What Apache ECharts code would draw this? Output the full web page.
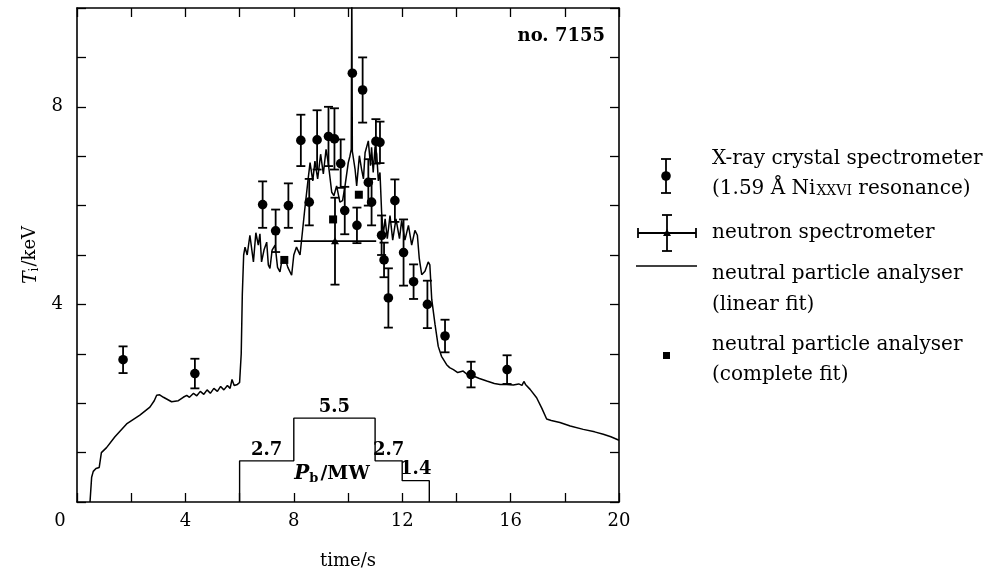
<!DOCTYPE html>
<html><head><meta charset="utf-8">
<script src="https://cdn.jsdelivr.net/npm/echarts@6/dist/echarts.min.js"></script>
<style>html,body{margin:0;padding:0;background:#fff}#c{width:986px;height:575px}</style>
</head><body><div id="c"></div>
<script>
const FONT = '"DejaVu Serif", "Liberation Serif", serif';

// X-ray crystal spectrometer (1.59 Å Ni XXVI resonance): time/s, Ti/keV, error/keV
const xrayTime = [1.7, 4.35, 6.85, 7.33, 7.8, 8.26, 8.57, 8.86, 9.28, 9.5, 9.73, 9.88, 10.16, 10.54, 10.33, 10.75, 10.87, 11.03, 11.18, 11.24, 11.73, 11.33, 11.49, 12.05, 12.42, 12.93, 13.58, 14.54, 15.87];
const xrayTi   = [2.88, 2.6, 6.02, 5.49, 6.0, 7.32, 6.07, 7.33, 7.4, 7.35, 6.85, 5.9, 8.68, 8.34, 5.6, 6.47, 6.07, 7.3, 7.28, 5.4, 6.1, 4.9, 4.13, 5.05, 4.46, 4.0, 3.36, 2.58, 2.68];
const xrayErr  = [0.27, 0.3, 0.47, 0.43, 0.45, 0.52, 0.47, 0.6, 0.6, 0.62, 0.49, 0.48, 0, 0.66, 0.36, 0.47, 0.47, 0.45, 0.42, 0.4, 0.43, 0.35, 0.6, 0.67, 0.35, 0.48, 0.33, 0.26, 0.29];

// neutron spectrometer
const neutronTime = [9.52];
const neutronTi = [5.28];
const neutronTimeErr = [1.52];
const neutronTiErr = [0.88];

// neutral particle analyser (complete fit)
const npaCompleteTime = [7.65, 9.45, 10.4];
const npaCompleteTi = [4.9, 5.72, 6.22];

// neutral particle analyser (linear fit) trace
const npaTime = [0.48,0.54,0.6,0.7,0.82,0.9,1.09,1.4,1.83,2.32,2.69,2.85,2.94,3.05,3.19,3.49,3.74,3.92,4.05,4.15,4.3,4.42,4.55,4.68,4.8,4.92,5.05,5.18,5.3,5.42,5.55,5.65,5.72,5.8,5.92,6.0,6.06,6.1,6.15,6.2,6.28,6.38,6.51,6.6,6.69,6.75,6.81,6.9,7.0,7.06,7.12,7.2,7.31,7.4,7.49,7.58,7.68,7.78,7.92,8.0,8.1,8.23,8.4,8.53,8.6,8.7,8.78,8.88,8.99,9.09,9.19,9.27,9.4,9.48,9.58,9.7,9.8,9.89,10.01,10.07,10.12,10.14,10.16,10.26,10.32,10.42,10.5,10.57,10.63,10.75,10.83,10.87,10.93,11.0,11.06,11.12,11.18,11.24,11.3,11.37,11.45,11.55,11.65,11.77,11.9,11.98,12.1,12.23,12.35,12.47,12.56,12.63,12.72,12.84,12.96,13.02,13.05,13.09,13.21,13.33,13.45,13.64,13.75,13.89,14.05,14.25,14.4,14.62,14.85,15.12,15.4,15.61,15.85,16.1,16.3,16.42,16.49,16.55,16.72,16.96,17.15,17.33,17.5,17.82,18.2,18.68,19.1,19.42,19.7,20.0];
const npaTi   = [0,0.5,0.62,0.68,0.7,1.0,1.1,1.32,1.58,1.76,1.92,2.05,2.16,2.17,2.12,2.03,2.05,2.12,2.16,2.12,2.2,2.15,2.24,2.18,2.27,2.2,2.3,2.24,2.34,2.27,2.36,2.3,2.48,2.36,2.38,2.42,3.0,4.2,5.0,5.16,5.0,5.4,4.86,5.45,5.2,5.43,4.86,5.1,5.26,4.8,4.73,5.1,5.2,4.75,4.66,4.95,4.93,4.75,4.59,5.0,5.16,5.0,5.9,6.54,6.87,6.5,6.9,6.54,7.04,6.64,7.14,6.87,6.27,6.2,6.4,6.07,6.1,6.4,6.87,7.0,7.14,10.5,7.1,6.74,6.4,7.01,6.74,6.54,7.07,7.31,6.81,7.18,6.67,7.2,7.04,6.5,6.67,5.87,5.4,5.73,5.33,5.8,5.3,5.73,5.33,5.7,5.3,5.6,5.2,5.5,5.4,4.93,4.6,4.67,4.86,4.8,4.5,4.1,3.6,3.15,2.95,2.78,2.72,2.68,2.62,2.65,2.58,2.55,2.5,2.45,2.4,2.38,2.38,2.37,2.39,2.36,2.44,2.38,2.28,2.11,1.9,1.68,1.65,1.61,1.54,1.47,1.42,1.37,1.32,1.25];

// beam power P_b/MW steps
const beamEdges = [6, 8, 11, 12, 13];
const beamPower = [2.7, 5.5, 2.7, 1.4];

// tick labels
const xTickLabels = [4, 8, 12, 16, 20];
const yTickLabels = [4, 8];

const chart = echarts.init(document.getElementById('c'), null, {renderer: 'canvas'});

const beamLine = [[beamEdges[0], 0]];
for (let i = 0; i < beamPower.length; i++) {
  beamLine.push([beamEdges[i], beamPower[i]]);
  beamLine.push([beamEdges[i + 1], beamPower[i]]);
}
beamLine.push([beamEdges[beamEdges.length - 1], 0]);
const beamLabels = beamPower.map((p, i) => [(beamEdges[i] + beamEdges[i + 1]) / 2, p]);

const txt = {color: '#000', fontFamily: FONT};
const LW = 1.6;
const FS = 18;
const LFS = 20;

function axisCommon(extra) {
  return Object.assign({
    type: 'value',
    axisLine: {show: true, onZero: false, lineStyle: {color: '#000', width: LW}},
    axisTick: {show: true, inside: true, length: 9, lineStyle: {color: '#000', width: 1.3}},
    splitLine: {show: false},
  }, extra);
}

const option = {
  animation: false,
  backgroundColor: '#fff',
  grid: {left: 77, right: 367, top: 8, bottom: 70, containLabel: false},
  xAxis: [
    axisCommon({min: 0, max: 20, interval: 2, position: 'bottom',
      axisLabel: {show: true, margin: 10, fontSize: FS, ...txt,
        formatter: v => xTickLabels.includes(v) ? String(v) : ''},
      name: 'time/s', nameLocation: 'middle', nameGap: 50,
      nameTextStyle: {fontSize: FS, ...txt}}),
    axisCommon({min: 0, max: 20, interval: 2, position: 'top', axisLabel: {show: false}})
  ],
  yAxis: [
    axisCommon({min: 0, max: 10, interval: 1, position: 'left',
      axisLabel: {show: true, margin: 14, fontSize: FS, ...txt,
        formatter: v => yTickLabels.includes(v) ? String(v) : ''},
      name: '{it|T}{sub|i}/keV', nameLocation: 'middle', nameGap: 36, nameRotate: 90,
      nameTextStyle: {fontSize: FS, ...txt, rich: {
        it: {fontSize: 19, fontStyle: 'italic', fontFamily: FONT, color: '#000'},
        sub: {fontSize: 12, fontFamily: FONT, color: '#000', padding: [8, 1, 0, 0]}
      }}}),
    axisCommon({min: 0, max: 10, interval: 1, position: 'right', axisLabel: {show: false}}),
    {type: 'value', min: 0, max: 32.4, show: false}
  ],
  series: [
    {
      name: 'npa linear', type: 'line', xAxisIndex: 0, yAxisIndex: 0,
      data: npaTime.map((t, i) => [t, npaTi[i]]),
      showSymbol: false, symbol: 'none', clip: true,
      lineStyle: {color: '#000', width: 1.5}, z: 2
    },
    {
      name: 'beam', type: 'line', xAxisIndex: 0, yAxisIndex: 2,
      data: beamLine, showSymbol: false, symbol: 'none',
      lineStyle: {color: '#000', width: 1.4}, z: 2
    },
    {
      name: 'beam labels', type: 'scatter', xAxisIndex: 0, yAxisIndex: 2,
      data: beamLabels, symbolSize: 0, itemStyle: {opacity: 1, color: '#000'},
      label: {show: true, position: 'top', distance: 2, fontSize: FS, fontWeight: 'bold', ...txt,
        formatter: p => p.value[1].toFixed(1)}
    },
    {
      name: 'xray', type: 'custom', xAxisIndex: 0, yAxisIndex: 0,
      data: xrayTime.map((t, i) => [t, xrayTi[i], xrayErr[i]]),
      renderItem: function (params, api) {
        const x = api.value(0), y = api.value(1), e = api.value(2);
        const c = api.coord([x, y]);
        const children = [];
        if (e > 0) {
          const t = api.coord([x, y + e]), b = api.coord([x, y - e]);
          const st = {stroke: '#000', lineWidth: 1.8};
          children.push({type: 'line', shape: {x1: c[0], y1: t[1], x2: c[0], y2: b[1]}, style: st});
          children.push({type: 'line', shape: {x1: c[0] - 4.5, y1: t[1], x2: c[0] + 4.5, y2: t[1]}, style: st});
          children.push({type: 'line', shape: {x1: c[0] - 4.5, y1: b[1], x2: c[0] + 4.5, y2: b[1]}, style: st});
        }
        children.push({type: 'circle', shape: {cx: c[0], cy: c[1], r: 4.8}, style: {fill: '#000'}});
        return {type: 'group', children: children};
      },
      z: 4
    },
    {
      name: 'neutron', type: 'custom', xAxisIndex: 0, yAxisIndex: 0,
      data: neutronTime.map((t, i) => [t, neutronTi[i], neutronTimeErr[i], neutronTiErr[i]]),
      renderItem: function (params, api) {
        const x = api.value(0), y = api.value(1), ex = api.value(2), ey = api.value(3);
        const c = api.coord([x, y]);
        const l = api.coord([x - ex, y]), r = api.coord([x + ex, y]);
        const t = api.coord([x, y + ey]), b = api.coord([x, y - ey]);
        const st = {stroke: '#000', lineWidth: 1.8};
        return {type: 'group', children: [
          {type: 'line', shape: {x1: l[0], y1: c[1], x2: r[0], y2: c[1]}, style: st},
          {type: 'line', shape: {x1: c[0], y1: t[1], x2: c[0], y2: b[1]}, style: st},
          {type: 'line', shape: {x1: c[0] - 4.5, y1: t[1], x2: c[0] + 4.5, y2: t[1]}, style: st},
          {type: 'line', shape: {x1: c[0] - 4.5, y1: b[1], x2: c[0] + 4.5, y2: b[1]}, style: st},
          {type: 'polygon', shape: {points: [[c[0], c[1] - 4], [c[0] - 4, c[1] + 3], [c[0] + 4, c[1] + 3]]}, style: {fill: '#000'}}
        ]};
      },
      z: 4
    },
    {
      name: 'npa complete', type: 'scatter', xAxisIndex: 0, yAxisIndex: 0,
      data: npaCompleteTime.map((t, i) => [t, npaCompleteTi[i]]),
      symbol: 'rect', symbolSize: 8, itemStyle: {color: '#000', opacity: 1}, z: 5
    }
  ],
  graphic: [
    {type: 'text', x: 60, y: 521, style: {text: '0', fontSize: FS, fill: '#000', fontFamily: FONT, align: 'center', verticalAlign: 'middle'}},
    {type: 'text', x: 605, y: 36, style: {text: 'no. 7155', fontSize: 18, fontWeight: 'bold', fill: '#000', fontFamily: FONT, align: 'right', verticalAlign: 'middle'}},
    {type: 'text', x: 332, y: 474, style: {
      text: '{it|P}{sub|b}/MW', fontSize: 19, fontWeight: 'bold', fill: '#000', fontFamily: FONT,
      align: 'center', verticalAlign: 'middle',
      rich: {it: {fontStyle: 'italic', fontWeight: 'bold', fontSize: 20, fontFamily: FONT},
             sub: {fontSize: 13, fontFamily: FONT, fontWeight: 'bold', padding: [9, 2, 0, 0]}}
    }},
    // legend: X-ray crystal spectrometer
    {type: 'line', shape: {x1: 666, y1: 159, x2: 666, y2: 193}, style: {stroke: '#000', lineWidth: 1.8}},
    {type: 'line', shape: {x1: 661, y1: 159, x2: 671, y2: 159}, style: {stroke: '#000', lineWidth: 1.8}},
    {type: 'line', shape: {x1: 661, y1: 193, x2: 671, y2: 193}, style: {stroke: '#000', lineWidth: 1.8}},
    {type: 'circle', shape: {cx: 666, cy: 176, r: 4.8}, style: {fill: '#000'}},
    {type: 'text', x: 712, y: 159, style: {text: 'X-ray crystal spectrometer', fontSize: LFS, fill: '#000', fontFamily: FONT, verticalAlign: 'middle'}},
    {type: 'text', x: 712, y: 189, style: {text: '(1.59 Å Ni{sc|XXVI} resonance)', fontSize: LFS, fill: '#000', fontFamily: FONT, verticalAlign: 'middle',
      rich: {sc: {fontSize: 14, fontFamily: FONT, padding: [4, 0, 0, 1]}}}},
    // legend: neutron spectrometer
    {type: 'line', shape: {x1: 638, y1: 233, x2: 696, y2: 233}, style: {stroke: '#000', lineWidth: 1.8}},
    {type: 'line', shape: {x1: 638, y1: 228, x2: 638, y2: 238}, style: {stroke: '#000', lineWidth: 1.8}},
    {type: 'line', shape: {x1: 696, y1: 228, x2: 696, y2: 238}, style: {stroke: '#000', lineWidth: 1.8}},
    {type: 'line', shape: {x1: 667, y1: 215, x2: 667, y2: 251}, style: {stroke: '#000', lineWidth: 1.8}},
    {type: 'line', shape: {x1: 662, y1: 215, x2: 672, y2: 215}, style: {stroke: '#000', lineWidth: 1.8}},
    {type: 'line', shape: {x1: 662, y1: 251, x2: 672, y2: 251}, style: {stroke: '#000', lineWidth: 1.8}},
    {type: 'polygon', shape: {points: [[667, 229], [663, 236], [671, 236]]}, style: {fill: '#000'}},
    {type: 'text', x: 712, y: 233, style: {text: 'neutron spectrometer', fontSize: LFS, fill: '#000', fontFamily: FONT, verticalAlign: 'middle'}},
    // legend: NPA linear fit
    {type: 'line', shape: {x1: 636, y1: 266, x2: 697, y2: 266}, style: {stroke: '#000', lineWidth: 1.6}},
    {type: 'text', x: 712, y: 274, style: {text: 'neutral particle analyser', fontSize: LFS, fill: '#000', fontFamily: FONT, verticalAlign: 'middle'}},
    {type: 'text', x: 712, y: 305, style: {text: '(linear fit)', fontSize: LFS, fill: '#000', fontFamily: FONT, verticalAlign: 'middle'}},
    // legend: NPA complete fit
    {type: 'rect', shape: {x: 663, y: 352, width: 7, height: 7}, style: {fill: '#000'}},
    {type: 'text', x: 712, y: 345, style: {text: 'neutral particle analyser', fontSize: LFS, fill: '#000', fontFamily: FONT, verticalAlign: 'middle'}},
    {type: 'text', x: 712, y: 375, style: {text: '(complete fit)', fontSize: LFS, fill: '#000', fontFamily: FONT, verticalAlign: 'middle'}}
  ]
};
chart.setOption(option);
</script>
</body></html>
